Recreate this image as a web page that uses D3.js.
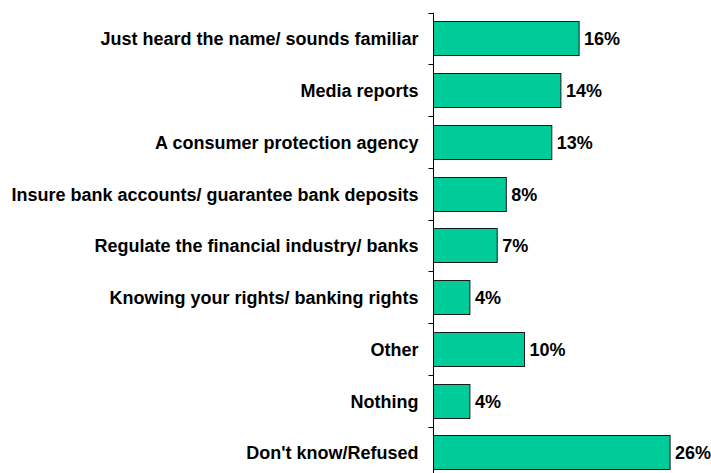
<!DOCTYPE html>
<html>
<head>
<meta charset="utf-8">
<script src="https://cdn.jsdelivr.net/npm/d3@7"></script>
<style>
  html, body { margin: 0; padding: 0; background: #fff; }
  svg { display: block; }
  text { font-family: "Liberation Sans", Arial, sans-serif; font-weight: bold; fill: #000; }
</style>
</head>
<body>
<script>
const categories = [
  "Just heard the name/ sounds familiar",
  "Media reports",
  "A consumer protection agency",
  "Insure bank accounts/ guarantee bank deposits",
  "Regulate the financial industry/ banks",
  "Knowing your rights/ banking rights",
  "Other",
  "Nothing",
  "Don't know/Refused"
];
const values = [16, 14, 13, 8, 7, 4, 10, 4, 26];
const valueLabels = ["16%", "14%", "13%", "8%", "7%", "4%", "10%", "4%", "26%"];

const W = 711, H = 473;
const axisX = 433.5;
const plotTop = 12.7, step = 51.75;

const svg = d3.select("body").append("svg").attr("width", W).attr("height", H);

const x = d3.scaleLinear().domain([0, 30]).range([axisX, axisX + 273]);
const y = d3.scaleBand().domain(categories)
  .range([plotTop, plotTop + step * categories.length])
  .paddingInner(0.34).paddingOuter(0.17);

// bars
svg.append("g").selectAll("rect").data(values).join("rect")
  .attr("x", x(0))
  .attr("y", (d, i) => Math.round(y(categories[i])) + 0.5)
  .attr("width", d => x(d) - x(0))
  .attr("height", Math.round(y.bandwidth()))
  .attr("fill", "#00CC99")
  .attr("stroke", "#1a1a1a")
  .attr("stroke-width", 1);

// axis line + ticks (ticks at band boundaries)
const ax = svg.append("g");
ax.append("line")
  .attr("x1", axisX).attr("x2", axisX)
  .attr("y1", plotTop).attr("y2", H + 10)
  .attr("stroke", "#000").attr("stroke-width", 1);
const tickYs = d3.range(categories.length + 1).map(i => Math.round(plotTop + i * step) + 0.5);
ax.selectAll("line.tick").data(tickYs).join("line").attr("class", "tick")
  .attr("x1", axisX - 5).attr("x2", axisX)
  .attr("y1", d => d).attr("y2", d => d)
  .attr("stroke", "#000").attr("stroke-width", 1);

// category labels
svg.append("g").selectAll("text").data(categories).join("text")
  .attr("x", 418.5)
  .attr("y", d => y(d) + y.bandwidth() / 2)
  .attr("dy", "0.38em")
  .attr("text-anchor", "end")
  .style("font-size", "18px")
  .text(d => d);

// value labels
svg.append("g").selectAll("text").data(values).join("text")
  .attr("x", d => x(d) + 5)
  .attr("y", (d, i) => y(categories[i]) + y.bandwidth() / 2)
  .attr("dy", "0.38em")
  .style("font-size", "18px")
  .text((d, i) => valueLabels[i]);
</script>
</body>
</html>
